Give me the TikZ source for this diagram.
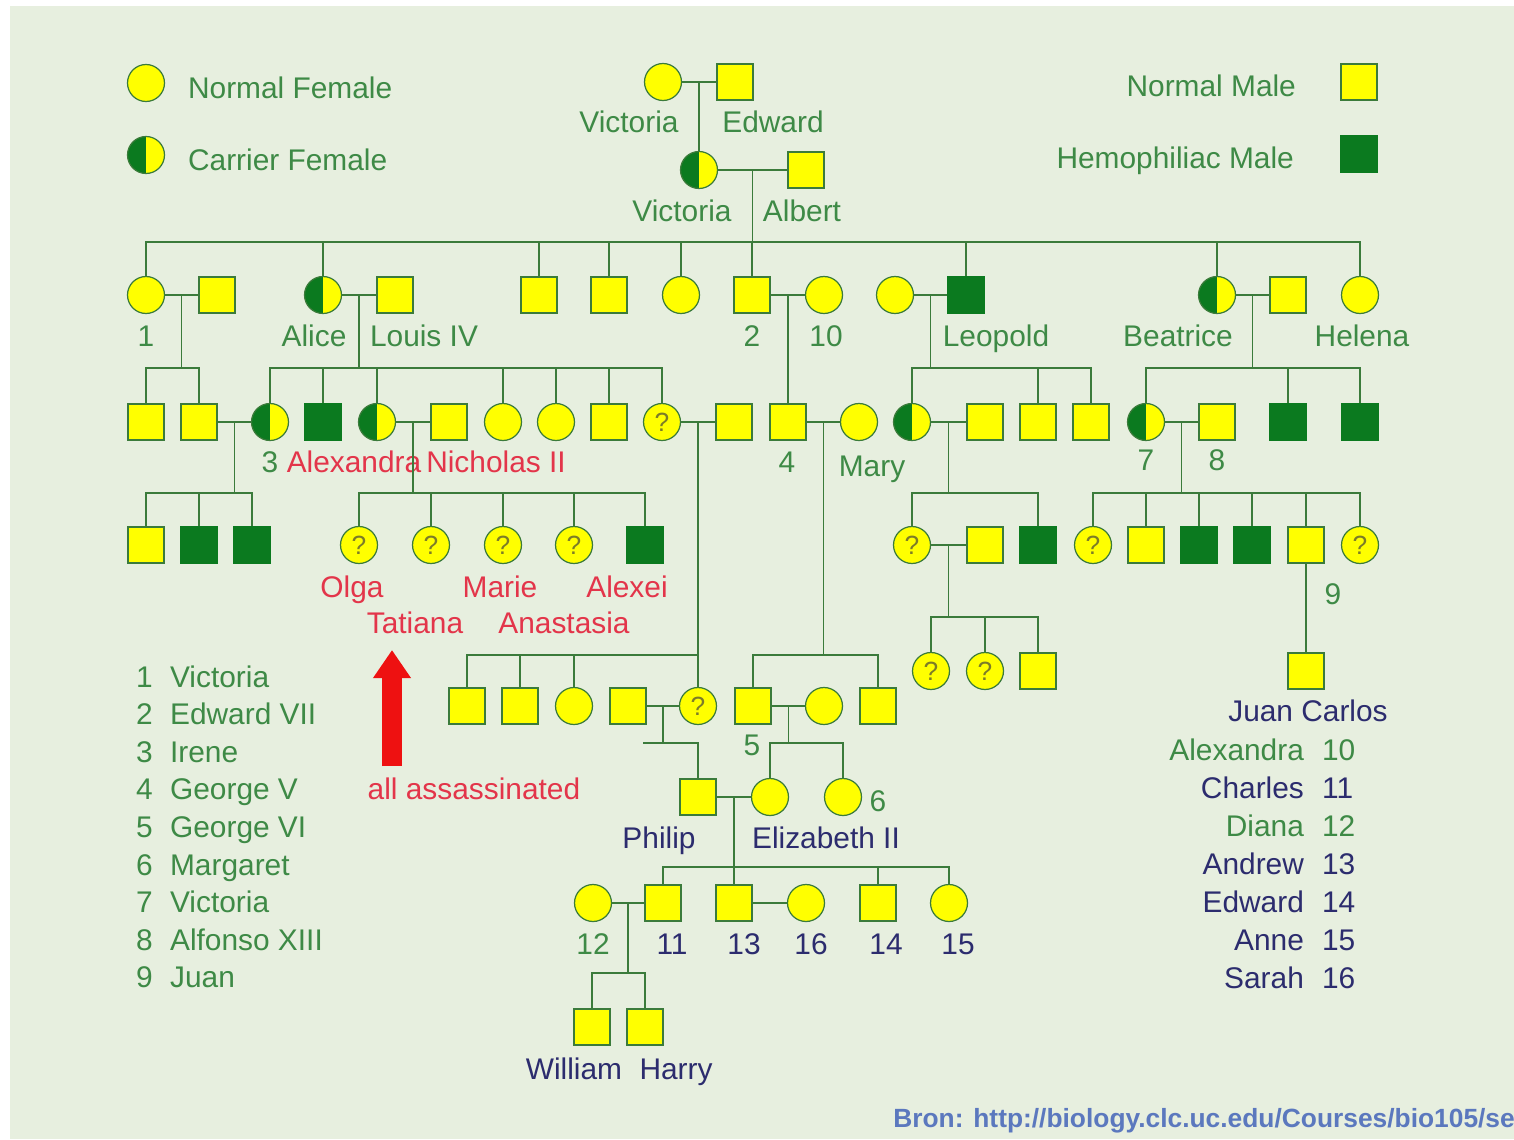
\documentclass[tikz,border=0pt]{standalone}
\usepackage{fontspec}
\setmainfont{Liberation Sans}
\usetikzlibrary{calc,arrows.meta}
\definecolor{bgcolor}{HTML}{E7EFDF}
\definecolor{linecolor}{HTML}{3B7B3B}
\definecolor{symyellow}{HTML}{FFFF00}
\definecolor{hemocolor}{HTML}{0B7A1F}
\definecolor{namecolor}{HTML}{3E8A46}
\definecolor{romanovcolor}{HTML}{E3354A}
\definecolor{windsorcolor}{HTML}{2C2C6E}
\definecolor{srccolor}{HTML}{5B78BE}
\definecolor{qcolor}{HTML}{7C7C28}
\definecolor{arrowcolor}{HTML}{EE1111}

\tikzset{
    kin/.style={draw=linecolor, line width=1.1pt},
    male/.style={rectangle, draw=linecolor, fill=symyellow, line width=0.9pt, minimum size=0.72cm, inner sep=0pt},
    hemo/.style={male, fill=hemocolor, draw=hemocolor},
    female/.style={circle, draw=linecolor, fill=symyellow, line width=0.7pt, minimum size=0.74cm, inner sep=0pt},
    carrier/.style={female, path picture={\fill[hemocolor] (path picture bounding box.south) rectangle (path picture bounding box.north west);}},
    unknown/.style={female, font=\fontsize{15}{15}\selectfont, text=qcolor},
    lbl/.style={font=\fontsize{17}{19}\selectfont, text=namecolor, inner sep=1pt, text height=0.72em, text depth=0.2em, yshift=-0.07cm},
    rlbl/.style={lbl, text=romanovcolor},
    blbl/.style={lbl, text=windsorcolor},
}

\begin{document}
\begin{tikzpicture}[x=0.02cm, y=-0.02cm]
    % Canvas
    \useasboundingbox (0,0) rectangle (1514,1139);
    \clip (0,0) rectangle (1514,1139);
    \fill[white] (0,0) rectangle (1514,1139);
    \fill[bgcolor] (10,6) rectangle (1514,1139);

    % Legend
    \node[female] (keyF) at (146,83) {};
    \node[lbl, anchor=west] (keyFt) at (186,90) {Normal Female};
    \node[carrier] (keyC) at (146,155) {};
    \node[lbl, anchor=west] (keyCt) at (186,162) {Carrier Female};
    \node[male] (keyM) at (1359,82) {};
    \node[lbl, anchor=east] (keyMt) at (1298,88) {Normal Male};
    \node[hemo] (keyH) at (1359,154) {};
    \node[lbl, anchor=east] (keyHt) at (1296,160) {Hemophiliac Male};

    % Generation I and II
    \node[female] (vicA) at (663,82) {};
    \node[male] (edw) at (735,82) {};
    \node[lbl] (vicAt) at (629,124) {Victoria};
    \node[lbl] (edwt) at (773,124) {Edward};
    \node[carrier] (vic) at (699,170) {};
    \node[male] (alb) at (806,170) {};
    \node[lbl] (vict) at (682,213) {Victoria};
    \node[lbl] (albt) at (802,213) {Albert};

    % Generation III
    \node[female] (d1) at (146,295) {};
    \node[male] (s1) at (217,295) {};
    \node[carrier] (alice) at (323,295) {};
    \node[male] (louis) at (395,295) {};
    \node[male] (c3) at (539,295) {};
    \node[male] (c4) at (609,295) {};
    \node[female] (c5) at (681,295) {};
    \node[male] (ed7) at (752,295) {};
    \node[female] (alx) at (824,295) {};
    \node[female] (leoW) at (895,295) {};
    \node[hemo] (leo) at (966,295) {};
    \node[carrier] (bea) at (1217,295) {};
    \node[male] (beaH) at (1288,295) {};
    \node[female] (hel) at (1360,295) {};
    \node[lbl] (d1t) at (146,338) {1};
    \node[lbl] (alicet) at (314,338) {Alice};
    \node[lbl] (louist) at (424,338) {Louis IV};
    \node[lbl] (ed7t) at (752,338) {2};
    \node[lbl] (alxt) at (826,338) {10};
    \node[lbl] (leot) at (996,338) {Leopold};
    \node[lbl] (beat) at (1178,338) {Beatrice};
    \node[lbl] (helt) at (1362,338) {Helena};

    % Generation IV
    \node[male] (g1a) at (146,422) {};
    \node[male] (g1b) at (199,422) {};
    \node[carrier] (irene) at (270,422) {};
    \node[hemo] (frit) at (323,422) {};
    \node[carrier] (alexa) at (377,422) {};
    \node[male] (nich) at (449,422) {};
    \node[female] (g2e) at (503,422) {};
    \node[female] (g2f) at (556,422) {};
    \node[male] (g2g) at (609,422) {};
    \node[unknown] (aliceB) at (662,422) {?};
    \node[male] (andr) at (734,422) {};
    \node[male] (geo5) at (788,422) {};
    \node[female] (mary) at (859,422) {};
    \node[carrier] (leoD) at (912,422) {};
    \node[male] (leoDH) at (985,422) {};
    \node[male] (leoS1) at (1038,422) {};
    \node[male] (leoS2) at (1091,422) {};
    \node[carrier] (vic7) at (1146,422) {};
    \node[male] (alf) at (1217,422) {};
    \node[hemo] (beaS1) at (1288,422) {};
    \node[hemo] (beaS2) at (1360,422) {};
    \node[lbl] (irenet) at (270,464) {3};
    \node[rlbl] (alexat) at (354,464) {Alexandra};
    \node[rlbl] (nicht) at (496,464) {Nicholas II};
    \node[lbl] (geo5t) at (787,464) {4};
    \node[lbl] (maryt) at (872,468) {Mary};
    \node[lbl] (vic7t) at (1146,462) {7};
    \node[lbl] (alft) at (1217,462) {8};

    % Generation V
    \node[male] (ir1) at (146,545) {};
    \node[hemo] (ir2) at (199,545) {};
    \node[hemo] (ir3) at (252,545) {};
    \node[unknown] (olga) at (359,545) {?};
    \node[unknown] (tati) at (431,545) {?};
    \node[unknown] (marie) at (503,545) {?};
    \node[unknown] (anas) at (574,545) {?};
    \node[hemo] (alexei) at (645,545) {};
    \node[unknown] (lv1) at (912,545) {?};
    \node[male] (lv1H) at (985,545) {};
    \node[hemo] (lv2) at (1038,545) {};
    \node[unknown] (sp1) at (1093,545) {?};
    \node[male] (sp2) at (1146,545) {};
    \node[hemo] (sp3) at (1199,545) {};
    \node[hemo] (sp4) at (1252,545) {};
    \node[male] (juan) at (1306,545) {};
    \node[unknown] (sp6) at (1360,545) {?};
    \node[rlbl] (olgat) at (352,589) {Olga};
    \node[rlbl] (mariet) at (500,589) {Marie};
    \node[rlbl] (alexeit) at (627,589) {Alexei};
    \node[rlbl] (tatit) at (415,625) {Tatiana};
    \node[rlbl] (anast) at (564,625) {Anastasia};
    \node[lbl] (juant) at (1333,596) {9};

    \node[unknown] (lvk1) at (931,671) {?};
    \node[unknown] (lvk2) at (985,671) {?};
    \node[male] (lvk3) at (1038,671) {};
    \node[male] (jc) at (1306,671) {};
    \node[blbl] (jct) at (1308,713) {Juan Carlos};

    \node[male] (ab1) at (467,706) {};
    \node[male] (ab2) at (520,706) {};
    \node[female] (ab3) at (574,706) {};
    \node[male] (andG) at (628,706) {};
    \node[unknown] (aliceG) at (698,706) {?};
    \node[male] (geo6) at (753,706) {};
    \node[female] (eBL) at (824,706) {};
    \node[male] (gk2) at (878,706) {};
    \node[lbl] (geo6t) at (752,747) {5};

    \node[male] (phil) at (698,797) {};
    \node[female] (eliz) at (770,797) {};
    \node[female] (marg) at (843,797) {};
    \node[lbl] (margt) at (878,803) {6};
    \node[blbl] (philt) at (659,840) {Philip};
    \node[blbl] (elizt) at (826,840) {Elizabeth II};

    \node[female] (diana) at (593,903) {};
    \node[male] (charles) at (663,903) {};
    \node[male] (andrew) at (734,903) {};
    \node[female] (sarah) at (806,903) {};
    \node[male] (edwd) at (878,903) {};
    \node[female] (anne) at (949,903) {};
    \node[lbl] (dianat) at (593,946) {12};
    \node[blbl] (charlest) at (672,946) {11};
    \node[blbl] (andrewt) at (744,946) {13};
    \node[blbl] (saraht) at (811,946) {16};
    \node[blbl] (edwdt) at (886,946) {14};
    \node[blbl] (annet) at (958,946) {15};

    \node[male] (will) at (592,1027) {};
    \node[male] (harry) at (645,1027) {};
    \node[blbl] (willt) at (574,1071) {William};
    \node[blbl] (harryt) at (676,1071) {Harry};

    % Marriages
    \foreach \a/\b in {vicA/edw, vic/alb, d1/s1, alice/louis, ed7/alx, leoW/leo, bea/beaH,
                       g1b/irene, alexa/nich, aliceB/andr, geo5/mary, leoD/leoDH, vic7/alf,
                       lv1/lv1H, andG/aliceG, geo6/eBL, phil/eliz, diana/charles, andrew/sarah}
        \draw[kin] (\a) -- (\b);

    % Descent lines
    \draw[kin] ($(vicA)!0.5!(edw)$) -- (vic.north);
    \foreach \c in {d1,alice,c3,c4,c5,ed7,leo,bea,hel}
        \draw[kin] ($(vic)!0.5!(alb)$) -- ++(0,72) -| (\c.north);
    \foreach \c in {g1a,g1b}
        \draw[kin] ($(d1)!0.5!(s1)$) -- ++(0,73) -| (\c.north);
    \foreach \c in {irene,frit,alexa,g2e,g2f,g2g,aliceB}
        \draw[kin] ($(alice)!0.5!(louis)$) -- ++(0,73) -| (\c.north);
    \draw[kin] ($(ed7)!0.5!(alx)$) -- (geo5.north);
    \foreach \c in {leoD,leoS1,leoS2}
        \draw[kin] ($(leoW)!0.5!(leo)$) -- ++(0,73) -| (\c.north);
    \foreach \c in {vic7,beaS1,beaS2}
        \draw[kin] ($(bea)!0.5!(beaH)$) -- ++(0,73) -| (\c.north);
    \foreach \c in {ir1,ir2,ir3}
        \draw[kin] ($(g1b)!0.5!(irene)$) -- ++(0,71) -| (\c.north);
    \foreach \c in {olga,tati,marie,anas,alexei}
        \draw[kin] ($(alexa)!0.5!(nich)$) -- ++(0,71) -| (\c.north);
    \foreach \c in {ab1,ab2,ab3,aliceG}
        \draw[kin] ($(aliceB)!0.5!(andr)$) -- ++(0,233) -| (\c.north);
    \foreach \c in {geo6,gk2}
        \draw[kin] ($(geo5)!0.5!(mary)$) -- ++(0,233) -| (\c.north);
    \foreach \c in {lv1,lv2}
        \draw[kin] ($(leoD)!0.5!(leoDH)$) -- ++(0,71) -| (\c.north);
    \foreach \c in {sp1,sp2,sp3,sp4,juan,sp6}
        \draw[kin] ($(vic7)!0.5!(alf)$) -- ++(0,71) -| (\c.north);
    \foreach \c in {lvk1,lvk2,lvk3}
        \draw[kin] ($(lv1)!0.5!(lv1H)$) -- ++(0,72) -| (\c.north);
    \draw[kin] (juan.south) -- (jc.north);
    \draw[kin] ($(andG)!0.5!(aliceG)$) -- ++(0,37) -| (phil.north);
    \draw[kin] ($(andG)!0.5!(aliceG)$) ++(0,37) -- ++(-20,0);
    \foreach \c in {eliz,marg}
        \draw[kin] ($(geo6)!0.5!(eBL)$) -- ++(0,37) -| (\c.north);
    \foreach \c in {charles,andrew,edwd,anne}
        \draw[kin] ($(phil)!0.5!(eliz)$) -- ++(0,70) -| (\c.north);
    \foreach \c in {will,harry}
        \draw[kin] ($(diana)!0.5!(charles)$) -- ++(0,70) -| (\c.north);

    % Romanov note
    \coordinate (arrowBase) at (392,766);
    \coordinate (arrowTip) at (392,650);
    \draw[arrowcolor, line width=0.4cm, -{Triangle[width=0.72cm, length=0.56cm]}] (arrowBase) -- (arrowTip);
    \node[rlbl] (assas) at (474,791) {all assassinated};

    % Left key
    \foreach \n/\nm in {1/Victoria, 2/Edward VII, 3/Irene, 4/George V, 5/George VI,
                        6/Margaret, 7/Victoria, 8/Alfonso XIII, 9/Juan} {
        \pgfmathsetmacro{\yy}{679 + (\n-1)*37.6}
        \node[lbl, anchor=west] (keyN\n) at (134,\yy) {\n};
        \node[lbl, anchor=west] (keyL\n) at (168,\yy) {\nm};
    }

    % Right key
    \foreach \i/\nm/\num/\col in {0/Alexandra/10/namecolor, 1/Charles/11/windsorcolor,
                                  2/Diana/12/namecolor, 3/Andrew/13/windsorcolor,
                                  4/Edward/14/windsorcolor, 5/Anne/15/windsorcolor,
                                  6/Sarah/16/windsorcolor} {
        \pgfmathsetmacro{\yy}{752 + \i*38}
        \node[lbl, text=\col, anchor=east] (keyR\i) at (1306,\yy) {\nm};
        \node[lbl, text=\col, anchor=west] (keyRn\i) at (1320,\yy) {\num};
    }

    % Source
    \node[font=\fontsize{15}{17}\selectfont\bfseries, text=srccolor, anchor=west, inner sep=0pt] (src) at (893,1121)
        {Bron: http://biology.clc.uc.edu/Courses/bio105/se};
\end{tikzpicture}
\end{document}
